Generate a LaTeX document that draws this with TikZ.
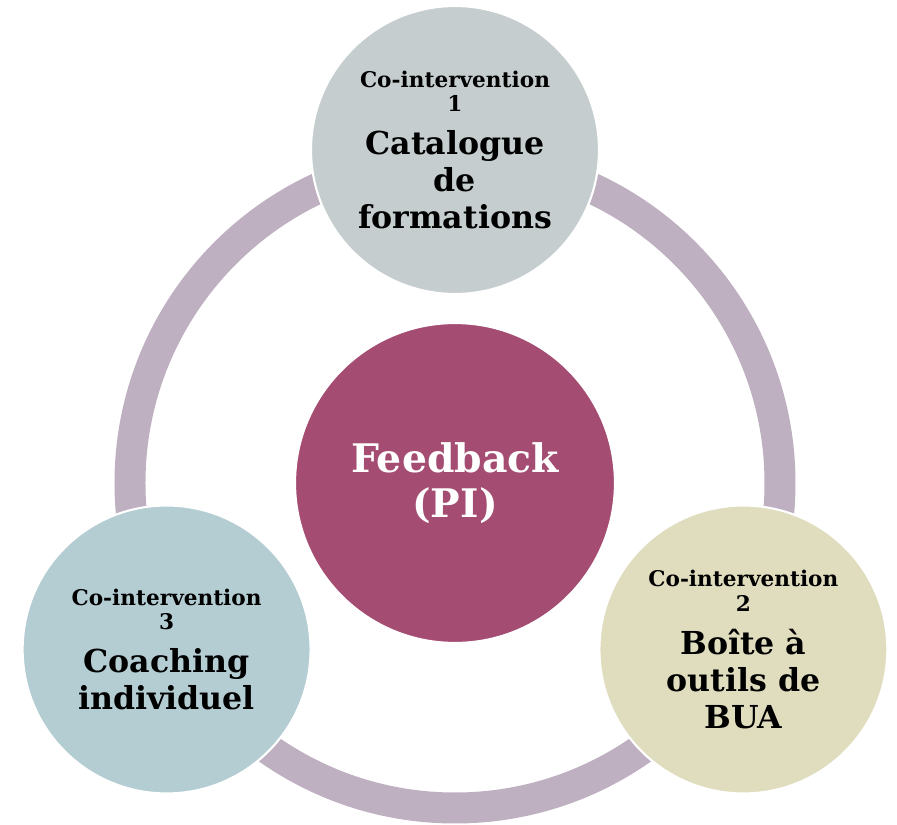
\documentclass[tikz,border=0pt]{standalone}
\usepackage{fontspec}
\setmainfont{DejaVu Serif}
\usepackage{tikz}
\usetikzlibrary{positioning}
\definecolor{ringlila}{HTML}{BFB0C1}
\definecolor{hubrose}{HTML}{A44C72}
\definecolor{topgray}{HTML}{C5CDCE}
\definecolor{leftblue}{HTML}{B4CDD3}
\definecolor{rightsand}{HTML}{E0DDBF}
\newcommand{\cofont}{\fontsize{12.3}{14}\selectfont}
\newcommand{\bubblefont}{\fontsize{18}{21}\selectfont}
\newcommand{\hubfont}{\fontsize{22.4}{25.5}\selectfont}

\begin{document}
\begin{tikzpicture}[x=0.02cm, y=0.02cm, every node/.style={align=center},
    bubble/.style={circle, draw=white, line width=1.2pt, minimum size=5.76cm, inner sep=0pt,
      font=\bfseries\bubblefont}]
  \useasboundingbox (-455,-342) rectangle (442,483);

  % ring
  \draw[ringlila, line width=0.62cm] (0,0) circle (325);

  % hub
  \node[bubble, fill=hubrose, minimum size=6.4cm, text=white, font=\bfseries\hubfont] (hub) at (0,0)
    {Feedback\\(PI)};

  % satellites
  \node[bubble, fill=topgray] (catalogue) at (90:333)
    {\cofont Co-intervention\\[-7pt] \cofont 1\\[3.4pt] Catalogue\\ de\\ formations};
  \node[bubble, fill=rightsand] (boite) at (330:333)
    {\cofont Co-intervention\\[-7pt] \cofont 2\\[3.4pt] Boîte à\\ outils de\\ BUA};
  \node[bubble, fill=leftblue] (coaching) at (210:333)
    {\cofont Co-intervention\\[-7pt] \cofont 3\\[3.4pt] Coaching\\ individuel};
\end{tikzpicture}
\end{document}
